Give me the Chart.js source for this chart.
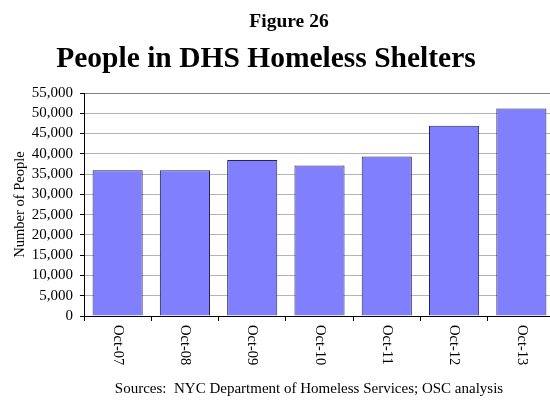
<!DOCTYPE html>
<html>
<head>
<meta charset="utf-8">
<script src="https://cdn.jsdelivr.net/npm/chart.js@4/dist/chart.umd.min.js"></script>
<style>
  html, body { margin: 0; padding: 0; background: #fff; overflow: hidden; }
  #wrap { position: relative; width: 560px; height: 400px; }
</style>
</head>
<body>
<div id="wrap"><canvas id="c" width="560" height="400"></canvas></div>
<script>
// Sheltered population each October
const months = ['Oct-07', 'Oct-08', 'Oct-09', 'Oct-10', 'Oct-11', 'Oct-12', 'Oct-13'];
const people = [35950, 35950, 38450, 37100, 39350, 46900, 51200];
const yTicks = [0, 5000, 10000, 15000, 20000, 25000, 30000, 35000, 40000, 45000, 50000, 55000];

const figureLabel = 'Figure 26';
const chartTitle = 'People in DHS Homeless Shelters';
const sourceNote = 'Sources:  NYC Department of Homeless Services; OSC analysis';
const yTitle = 'Number of People';

const SERIF = '"Liberation Serif", "Times New Roman", serif';

// Headings, rotated category labels and source line
const annotations = {
  id: 'annotations',
  afterDraw(chart) {
    const ctx = chart.ctx;
    const xs = chart.scales.x;
    ctx.save();
    ctx.fillStyle = '#000';

    ctx.textAlign = 'center';
    ctx.textBaseline = 'alphabetic';
    ctx.font = 'bold 19.5px ' + SERIF;
    ctx.fillText(figureLabel, 289, 27);
    ctx.font = 'bold 29.5px ' + SERIF;
    ctx.fillText(chartTitle, 266, 67);

    ctx.font = '15px ' + SERIF;
    ctx.fillText(sourceNote, 309, 393);

    // category labels, turned clockwise
    ctx.font = '14.5px ' + SERIF;
    ctx.textAlign = 'left';
    ctx.textBaseline = 'middle';
    months.forEach((m, i) => {
      const x = xs.getPixelForValue(i);
      ctx.save();
      ctx.translate(x, xs.top + 9);
      ctx.rotate(Math.PI / 2);
      ctx.fillText(m, 0, 0);
      ctx.restore();
    });
    ctx.restore();
  }
};

new Chart(document.getElementById('c'), {
  type: 'bar',
  data: {
    labels: months,
    datasets: [{
      data: people,
      backgroundColor: '#8080FF',
      borderColor: '#24245a',
      borderWidth: 1,
      categoryPercentage: 1,
      barPercentage: 0.745
    }]
  },
  options: {
    responsive: false,
    animation: false,
    devicePixelRatio: 1,
    layout: { padding: { top: 93, right: 5, bottom: 0, left: 0 } },
    plugins: {
      legend: { display: false },
      tooltip: { enabled: false },
      title: { display: false }
    },
    scales: {
      x: {
        ticks: { display: false },
        grid: {
          offset: true,
          drawOnChartArea: false,
          drawTicks: true,
          tickLength: 5,
          tickColor: '#000',
          color: '#000'
        },
        border: { color: '#000', width: 1 },
        afterFit(scale) { scale.height = 84; }
      },
      y: {
        min: 0,
        max: 55000,
        afterBuildTicks(scale) { scale.ticks = yTicks.map(v => ({ value: v })); },
        ticks: {
          color: '#000',
          padding: 7,
          autoSkip: false,
          font: { family: SERIF, size: 15 },
          callback: v => v.toLocaleString('en-US')
        },
        grid: {
          color: ctx => (ctx.tick && ctx.tick.value === 55000) ? '#808080' : '#b4b4b4',
          lineWidth: 1,
          drawTicks: true,
          tickLength: 4,
          tickColor: '#000'
        },
        border: { color: '#000', width: 1 },
        title: {
          display: true,
          text: yTitle,
          color: '#000',
          font: { family: SERIF, size: 14.5 },
          padding: { top: 11, bottom: 0 }
        },
        afterFit(scale) { scale.width = 84; }
      }
    }
  },
  plugins: [annotations]
});
</script>
</body>
</html>
